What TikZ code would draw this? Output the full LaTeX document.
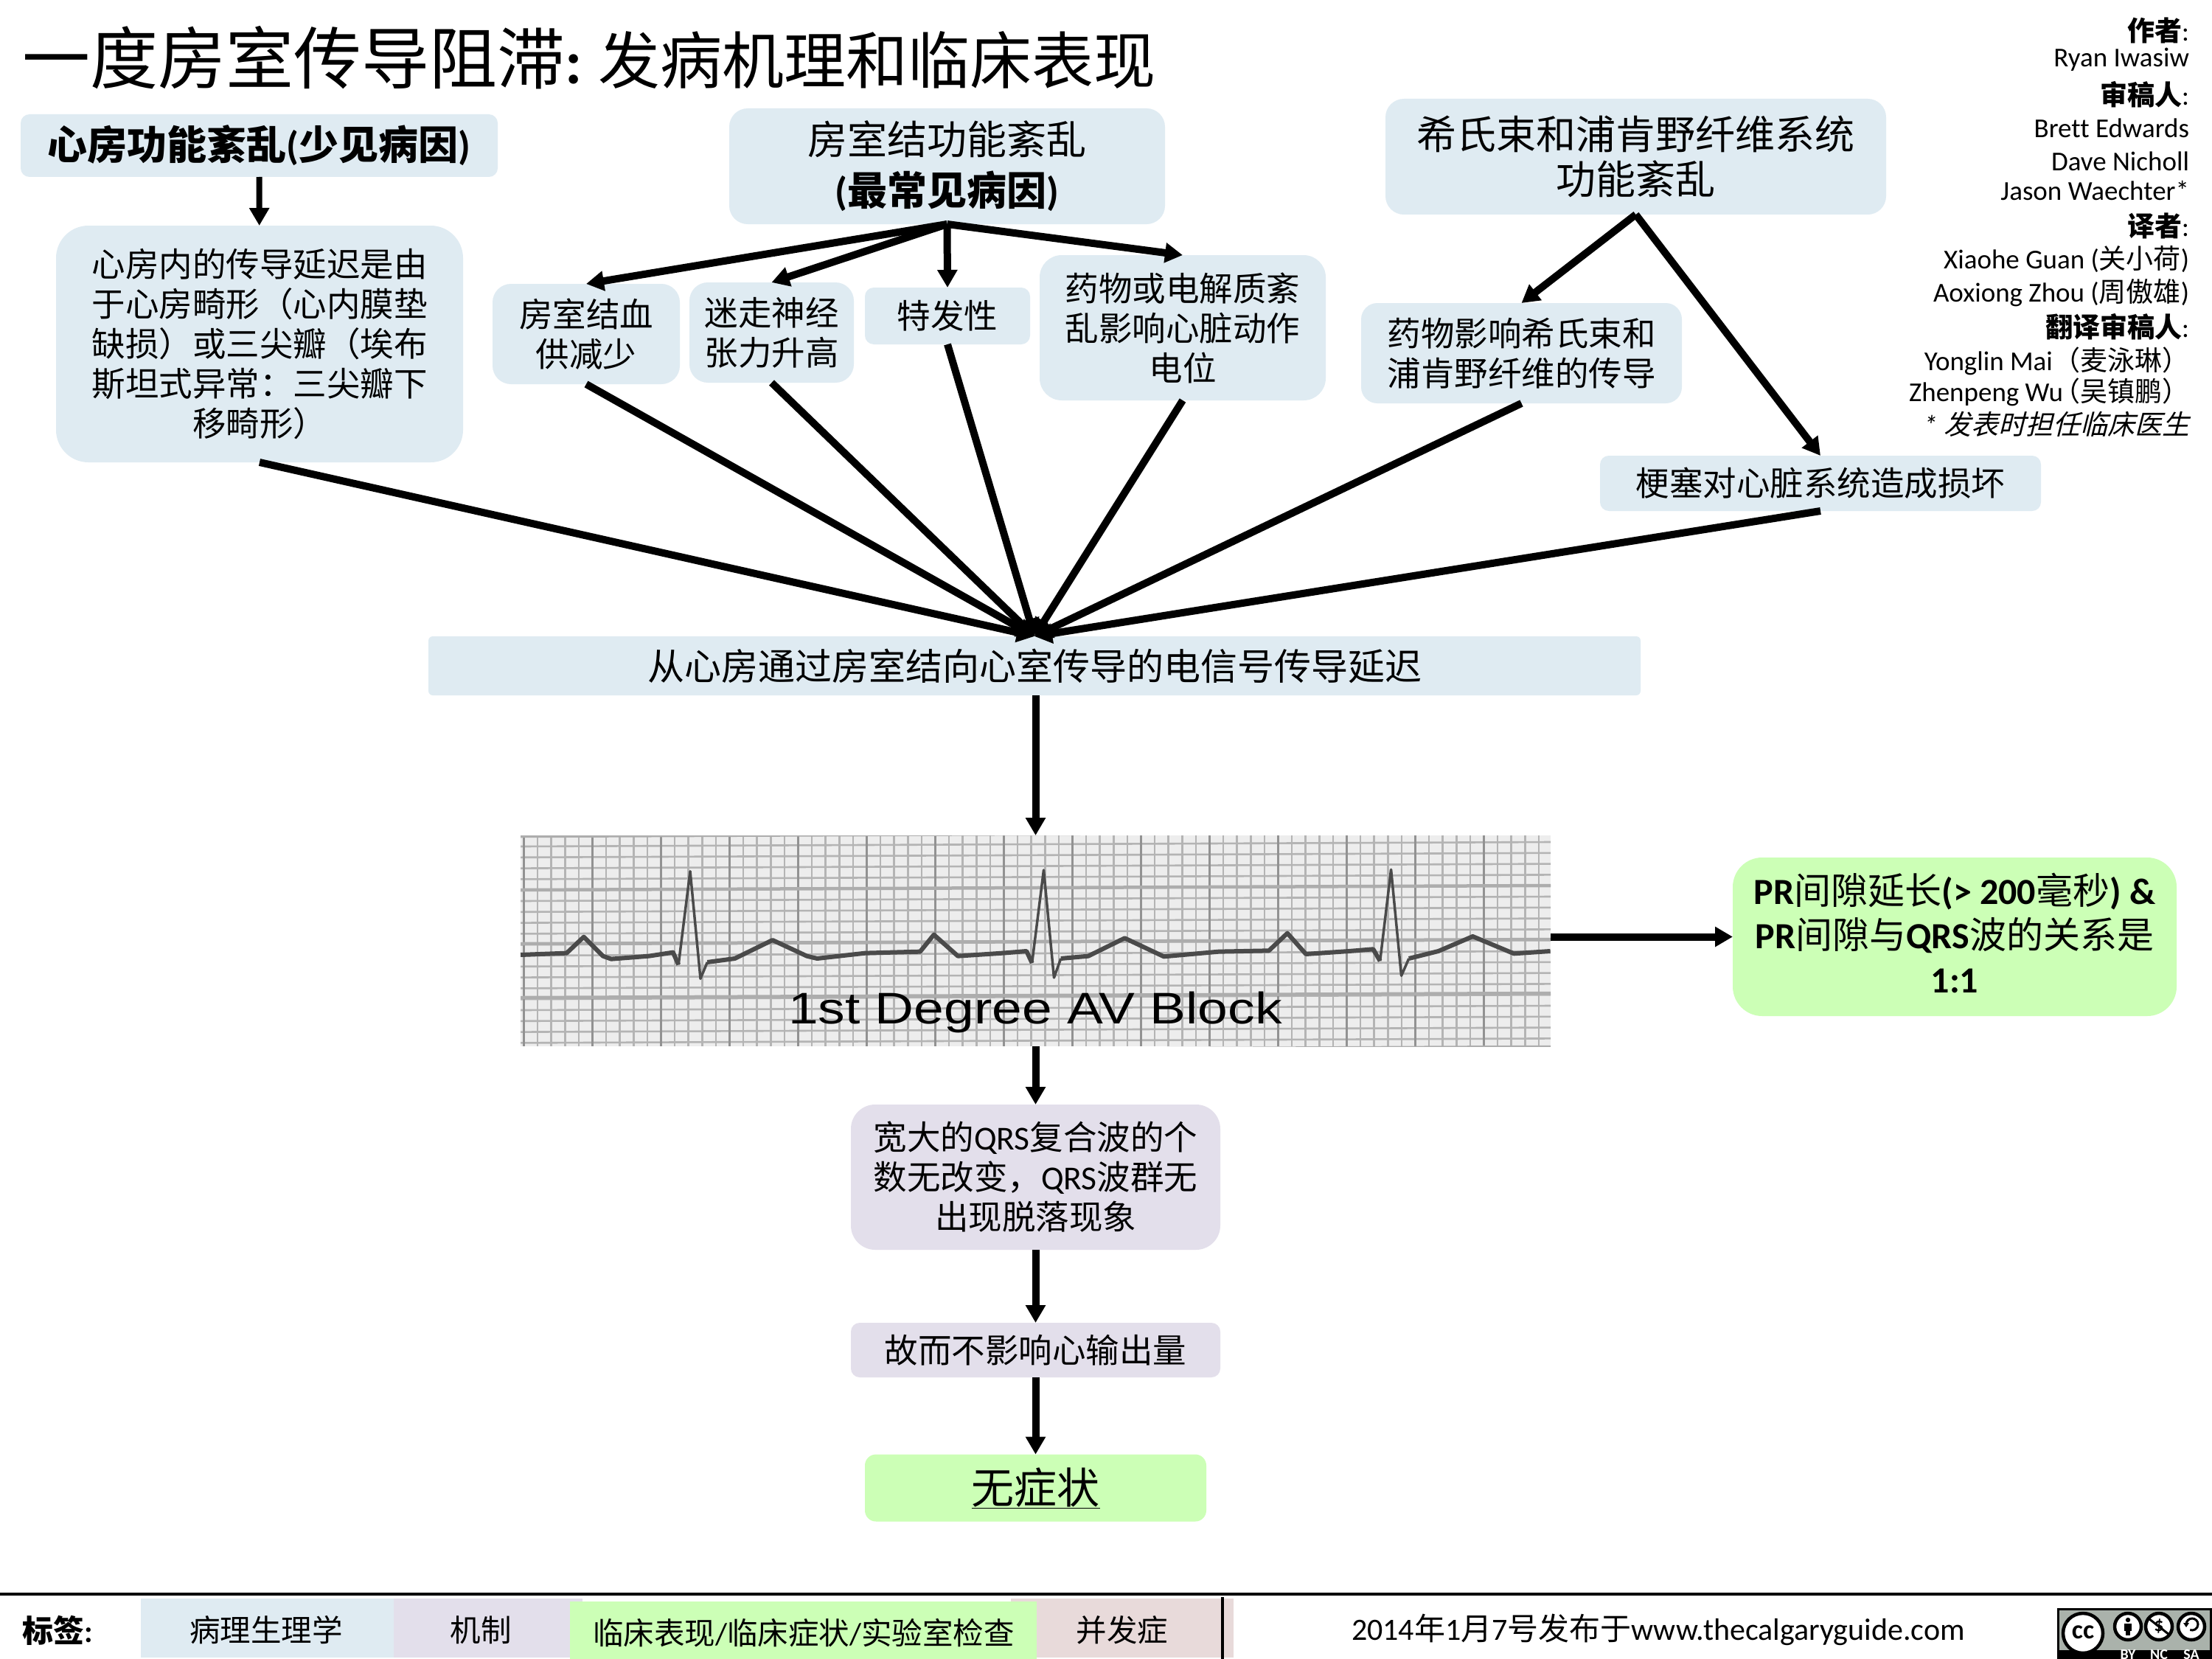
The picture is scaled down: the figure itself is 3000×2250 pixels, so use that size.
\documentclass[tikz,border=0pt]{standalone}
\usepackage{fontspec}
\usetikzlibrary{arrows.meta}
\setmainfont{Carlito}[Ligatures=CommonOff]
\newfontfamily\cjk{Noto Sans CJK SC}
\newfontfamily\cjkslant[FakeSlant=0.25]{Noto Sans CJK SC}
\newfontfamily\arialish{Liberation Sans}
\newcommand{\z}[1]{{\cjk #1}}
\newcommand{\fsz}[2]{\fontsize{#1}{#2}\selectfont}
\definecolor{cblue}{HTML}{DFEBF2}
\definecolor{cpurple}{HTML}{E3DFEB}
\definecolor{cgreen}{HTML}{CCFFB6}
\definecolor{cpink}{HTML}{E8DADA}
\definecolor{cgrid}{HTML}{B4B4B4}
\definecolor{cgridm}{HTML}{929292}
\definecolor{cgridh}{HTML}{ADADAD}
\definecolor{cpaper}{HTML}{EDEDED}
\definecolor{ctrace}{HTML}{4A4A4A}
\definecolor{clogo}{HTML}{AAB2AB}
\tikzset{
  cbox/.style={rectangle,inner sep=0pt,outer sep=0pt,align=center,text=black},
  body/.style={font=\fsz{45.5}{54}},
  head/.style={font=\bfseries\fsz{54}{61}},
  arr/.style={draw=black,line width=10pt,-{Triangle[length=24pt,width=26pt]}},
  link/.style={arr},
  credit/.style={anchor=east,inner sep=0pt,outer sep=0pt,font=\fsz{37}{40}},
  legend/.style={inner sep=0pt,outer sep=0pt,font=\fsz{41.5}{46}},
  gridmin/.style={draw=cgrid,line width=2.6pt},
  gridmaj/.style={draw=cgridm,line width=3pt},
  gridhor/.style={draw=cgridh,line width=4.5pt},
  ring/.style={draw=black,fill=white,line width=4.5pt}
}
\begin{document}
\begin{tikzpicture}[x=1pt,y=-1pt]
\useasboundingbox (0,0) rectangle (3000,2250);
\fill[white] (0,0) rectangle (3000,2250);

% title
\node[anchor=base west,inner sep=0pt,outer sep=0pt] (title) at (30,114)
  {\fsz{92}{100}\z{一度房室传导阻滞}{\bfseries\fsz{84}{100}:\hspace{22pt}}\fsz{84}{100}\z{发病机理和临床表现}};

% credits
\node[credit] (c1) at (2969,41) {\bfseries\z{作者}\mdseries:};
\node[credit] (c2) at (2969,81) {Ryan Iwasiw};
\node[credit] (c3) at (2969,128) {\bfseries\z{审稿人}\mdseries:};
\node[credit] (c4) at (2969,174) {Brett Edwards};
\node[credit] (c5) at (2969,219) {Dave Nicholl};
\node[credit] (c6) at (2969,259) {Jason Waechter*};
\node[credit] (c7) at (2969,306) {\bfseries\z{译者}\mdseries:};
\node[credit] (c8) at (2969,352) {Xiaohe Guan (\z{关小荷})};
\node[credit] (c9) at (2969,397) {Aoxiong Zhou (\z{周傲雄})};
\node[credit] (c10) at (2969,443) {\bfseries\z{翻译审稿人}\mdseries:};
\node[credit] (c11) at (2969,490) {Yonglin Mai\z{（麦泳琳）}\hspace{-14pt}};
\node[credit] (c12) at (2969,532) {Zhenpeng Wu\hspace{-14pt}\z{（吴镇鹏）}\hspace{-14pt}};
\node[credit] (c13) at (2969,575) {\itshape * {\cjkslant 发表时担任临床医生}};

% boxes
\node[cbox,head,fill=cblue,minimum width=647pt,minimum height=85pt,rounded corners=12pt] (atria) at (351.5,197.5)
  {\z{心房功能紊乱}(\z{少见病因})};
\node[cbox,head,fill=cblue,minimum width=591pt,minimum height=157pt,rounded corners=25pt] (avn) at (1284.5,225.5)
  {{\mdseries\z{房室结功能紊乱}}\\[8pt](\z{最常见病因})};
\node[cbox,head,fill=cblue,minimum width=679pt,minimum height=157pt,rounded corners=25pt] (his) at (2218.5,212.5)
  {{\mdseries\z{希氏束和浦肯野纤维系统}}\\{\mdseries\z{功能紊乱}}};
\node[cbox,body,fill=cblue,minimum width=552pt,minimum height=321pt,rounded corners=44pt] (atria2) at (352,466.5)
  {\z{心房内的传导延迟是由}\\\z{于心房畸形（心内膜垫}\\\z{缺损）或三尖瓣（埃布}\\\z{斯坦式异常：三尖瓣下}\\\z{移畸形）}};
\node[cbox,body,fill=cblue,minimum width=254pt,minimum height=136pt,rounded corners=25pt] (n1) at (795,453)
  {\z{房室结血}\\\z{供减少}};
\node[cbox,body,fill=cblue,minimum width=223pt,minimum height=136pt,rounded corners=25pt] (n2) at (1046.5,451)
  {\z{迷走神经}\\\z{张力升高}};
\node[cbox,body,fill=cblue,minimum width=224pt,minimum height=77pt,rounded corners=12pt] (n3) at (1285,428.5)
  {\z{特发性}};
\node[cbox,body,fill=cblue,minimum width=388pt,minimum height=197pt,rounded corners=30pt] (n4) at (1604,444.5)
  {\z{药物或电解质紊}\\\z{乱影响心脏动作}\\\z{电位}};
\node[cbox,body,fill=cblue,minimum width=435pt,minimum height=136pt,rounded corners=22pt] (n5) at (2063.5,479)
  {\z{药物影响希氏束和}\\\z{浦肯野纤维的传导}};
\node[cbox,body,fill=cblue,minimum width=598pt,minimum height=75pt,rounded corners=12pt] (n6) at (2469,655.5)
  {\z{梗塞对心脏系统造成损坏}};
\node[cbox,fill=cblue,font=\fsz{50}{56},minimum width=1644pt,minimum height=80pt,rounded corners=6pt] (wide) at (1403,903)
  {\z{从心房通过房室结向心室传导的电信号传导延迟}};

% ECG strip
\node[cbox,fill=cpaper,minimum width=1397pt,minimum height=286pt] (ecg) at (1404.5,1276) {};
\begin{scope}
  \clip (706,1133) rectangle (2103,1419);
  \foreach \i in {0,...,75}{
    \pgfmathsetmacro{\xx}{710.5+18.6*\i}
    \draw[gridmin] (\xx,1133) -- (\xx,1419);
  }
  \foreach \i in {-1,...,18}{
    \pgfmathsetmacro{\yy}{1148+14.8*\i}
    \draw[gridmin] (706,\yy) -- (2103,\yy-6);
  }
  \foreach \i in {0,...,15}{
    \pgfmathsetmacro{\xx}{710.5+93*\i}
    \draw[gridmaj] (\xx,1133) -- (\xx,1419);
  }
  \foreach \i in {-1,0,1,2,3}{
    \pgfmathsetmacro{\yy}{1207+73*\i}
    \draw[gridhor] (706,\yy) -- (2103,\yy-6);
  }
\end{scope}
\begin{scope}[shift={(680,1100)},x=0.931pt,y=-0.3333pt]
  \draw[ctrace,line width=6pt,line join=round] (28,585) -- (95,578) -- (120,512) -- (148,590) -- (160,602) -- (215,590) -- (250,575) -- (258,625);
  \draw[ctrace,line width=3.5pt,line join=round] (258,625) -- (275,245) -- (290,682) -- (300,615);
  \draw[ctrace,line width=6pt,line join=round] (300,615) -- (340,600) -- (395,525) -- (445,590) -- (460,600) -- (530,578) -- (610,572) -- (630,503) -- (665,590) -- (730,578) -- (765,570) -- (773,618);
  \draw[ctrace,line width=3.5pt,line join=round] (773,618) -- (790,240) -- (805,678) -- (815,600);
  \draw[ctrace,line width=6pt,line join=round] (815,600) -- (855,590) -- (908,517) -- (965,592) -- (1045,572) -- (1118,568) -- (1145,497) -- (1172,582) -- (1235,570) -- (1270,562) -- (1280,610);
  \draw[ctrace,line width=3.5pt,line join=round] (1280,610) -- (1296,238) -- (1311,670) -- (1322,600);
  \draw[ctrace,line width=6pt,line join=round] (1322,600) -- (1365,570) -- (1415,510) -- (1475,580) -- (1528,570);
\end{scope}
\node[inner sep=0pt,outer sep=0pt,anchor=base,xscale=1.22,transform shape,text=black] (ecglabel) at (1404,1388)
  {\arialish\fsz{60}{64}1st Degree AV Block};

% outcome boxes
\node[cbox,fill=cgreen,font=\bfseries\fsz{50}{60},minimum width=602pt,minimum height=215pt,rounded corners=40pt] (pr) at (2651,1270.5)
  {PR{\mdseries\z{间隙延长}}(> 200{\mdseries\z{毫秒}}) \&\\PR{\mdseries\z{间隙与}}QRS{\mdseries\z{波的关系是}}\\1:1\rule[-10pt]{0pt}{10pt}};
\node[cbox,body,fill=cpurple,minimum width=501pt,minimum height=197pt,rounded corners=33pt] (qrs) at (1404.5,1596.5)
  {\z{宽大的}QRS\z{复合波的个}\\\z{数无改变，}QRS\z{波群无}\\\z{出现脱落现象}};
\node[cbox,body,fill=cpurple,minimum width=501pt,minimum height=74pt,rounded corners=12pt] (co) at (1404.5,1831)
  {\z{故而不影响心输出量}};
\node[cbox,fill=cgreen,font=\fsz{58}{64},minimum width=463pt,minimum height=91pt,rounded corners=15pt] (none) at (1404.5,2018)
  {\underline{\z{无症状}}};

% connectors
\draw[link,line width=8pt] (atria) -- (atria2);
\draw[link] (avn.south) -- (n1.north);
\draw[link] (avn.south) -- (n2.north);
\draw[link] (avn.south) -- (n3.north);
\draw[link] (avn.south) -- (n4.north);
\draw[link] (his.south) -- (n5.north);
\draw[link] (his.south) -- (n6.north);
\draw[link] (atria2.south) -- (wide.north);
\draw[link] (n1.south) -- (wide.north);
\draw[link] (n2.south) -- (wide.north);
\draw[link] (n3.south) -- (wide.north);
\draw[link] (n4.south) -- (wide.north);
\draw[link] (n5.south) -- (wide.north);
\draw[link] (n6.south) -- (wide.north);
\draw[link] (ecg.north |- wide.south) -- (ecg.north);
\draw[link] (ecg.south) -- (qrs.north);
\draw[link] (qrs.south) -- (co.north);
\draw[link] (co.south) -- (none.north);
\draw[link] (ecg.east |- pr.west) -- (pr.west);

% footer
\draw[black,line width=4.5pt] (0,2162) -- (3000,2162);
\node[inner sep=0pt,outer sep=0pt,font=\bfseries\fsz{42}{46}] (legtitle) at (78,2211) {\z{标签}:};
\fill[cblue] (191,2168) rectangle (534,2248);
\fill[cpurple] (534,2168) rectangle (790,2248);
\fill[cpink] (1371,2168) rectangle (1673,2248);
\fill[cgreen] (773,2172) rectangle (1406,2250);
\draw[black,line width=3.5pt] (1658,2166) -- (1658,2250);
\node[legend] (l1) at (361,2211) {\z{病理生理学}};
\node[legend] (l2) at (652,2211) {\z{机制}};
\node[legend] (l3) at (1090,2215) {\z{临床表现}/\z{临床症状}/\z{实验室检查}};
\node[legend] (l4) at (1522,2211) {\z{并发症}};
\node[inner sep=0pt,outer sep=0pt,font=\fsz{42}{46}] (date) at (2249,2210)
  {2014\z{年}1\z{月}7\z{号发布于}www.thecalgaryguide.com};

% licence badge
\fill[black] (2790,2181) rectangle (3000,2250);
\fill[clogo] (2793,2184) rectangle (2997,2238);
\node[circle,ring,minimum size=54pt,inner sep=0pt,font=\bfseries\fsz{36}{38}] (cc) at (2825,2215) {\raisebox{2pt}{cc}};
\node[circle,ring,minimum size=36pt,inner sep=0pt] (by) at (2886,2206) {};
\fill[black] (2886,2197) circle (3.2pt);
\fill[black] (2881,2202) rectangle (2891,2212);
\fill[black] (2883,2212) rectangle (2889,2218);
\node[circle,ring,minimum size=36pt,inner sep=0pt,font=\bfseries\fsz{26}{28}] (nc) at (2928,2206) {\$};
\draw[black,line width=3pt] (2914,2195) -- (2942,2217);
\node[circle,ring,minimum size=36pt,inner sep=0pt] (sa) at (2972,2206) {};
\draw[black,line width=3pt] (2965,2203) arc[start angle=180,end angle=-110,radius=8pt];
\fill[black] (2961,2201) -- (2969,2201) -- (2965,2207) -- cycle;
\node[inner sep=0pt,text=white,font=\bfseries\fsz{20}{22}] (byt) at (2886,2244) {BY};
\node[inner sep=0pt,text=white,font=\bfseries\fsz{20}{22}] (nct) at (2928,2244) {NC};
\node[inner sep=0pt,text=white,font=\bfseries\fsz{20}{22}] (sat) at (2972,2244) {SA};
\end{tikzpicture}
\end{document}
